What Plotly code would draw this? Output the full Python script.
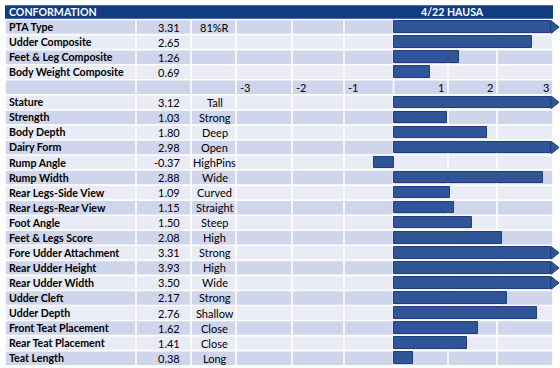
import plotly.graph_objects as go

# ---------------- data ----------------
title_left = "CONFORMATION"
title_right = "4/22 HAUSA"

top_names = ["PTA Type", "Udder Composite", "Feet & Leg Composite", "Body Weight Composite"]
top_values = [3.31, 2.65, 1.26, 0.69]
top_labels = ["81%R", "", "", ""]

trait_names = ["Stature", "Strength", "Body Depth", "Dairy Form", "Rump Angle", "Rump Width",
               "Rear Legs-Side View", "Rear Legs-Rear View", "Foot Angle", "Feet & Legs Score",
               "Fore Udder Attachment", "Rear Udder Height", "Rear Udder Width", "Udder Cleft",
               "Udder Depth", "Front Teat Placement", "Rear Teat Placement", "Teat Length"]
trait_values = [3.12, 1.03, 1.80, 2.98, -0.37, 2.88, 1.09, 1.15, 1.50, 2.08,
                3.31, 3.93, 3.50, 2.17, 2.76, 1.62, 1.41, 0.38]
trait_labels = ["Tall", "Strong", "Deep", "Open", "HighPins", "Wide", "Curved", "Straight",
                "Steep", "High", "Strong", "High", "Wide", "Strong", "Shallow", "Close",
                "Close", "Long"]

axis_ticks = [-3, -2, -1, 1, 2, 3]

# ---------------- layout constants (pixels) ----------------
W, H = 560, 368
TOP = 4.5
ROW_H = 15.05
COLS = [5, 136, 191, 236, 292, 344, 393.5, 448, 497, 553]
ZERO_PX = 393.7
PX_PER_UNIT = 52.0
CAP = 3.03          # bars longer than the grid end in an arrow
ARROW_AT = 2.95
ARROW_LEN = 0.15
BAR_H = 11.5

DARK = "#CFD5EA"
LIGHT = "#E9EBF5"
HEADER = "#0F3C83"
BAR = "#2F5597"
BAR_EDGE = "#1F3F82"
FONT = "Lato"
FS_NAME = 10.6
FS = 11

names = top_names + [""] + trait_names
values = top_values + [None] + trait_values
labels = top_labels + [""] + trait_labels
n = len(names)
AXIS_ROW = len(top_names)


def row_y(i):
    # i = 0 is the first data row (header sits above it)
    y0 = TOP + ROW_H * (i + 1)
    return y0, y0 + ROW_H


shapes = []
annotations = []
g = 0.8

# header
shapes.append(dict(type="rect", xref="x", yref="y", x0=COLS[0], x1=COLS[-1],
                   y0=TOP + g, y1=TOP + ROW_H - g, fillcolor=HEADER, line_width=0, layer="below"))
annotations.append(dict(x=COLS[0] + 2, y=TOP + ROW_H / 2, xref="x", yref="y", text=title_left,
                        showarrow=False, xanchor="left", yanchor="middle",
                        font=dict(family=FONT, size=FS_NAME, color="white", weight="bold")))
annotations.append(dict(x=452, y=TOP + ROW_H / 2, xref="x", yref="y", text=title_right,
                        showarrow=False, xanchor="center", yanchor="middle",
                        font=dict(family=FONT, size=FS_NAME, color="white", weight="bold")))

for i in range(n):
    y0, y1 = row_y(i)
    fill = DARK if i % 2 == 0 else LIGHT
    for c in range(len(COLS) - 1):
        shapes.append(dict(type="rect", xref="x", yref="y", x0=COLS[c] + g, x1=COLS[c + 1] - g,
                           y0=y0 + g, y1=y1 - g, fillcolor=fill, line_width=0, layer="below"))
    yc = (y0 + y1) / 2
    if names[i]:
        annotations.append(dict(x=COLS[0] + 2, y=yc, xref="x", yref="y", text=names[i],
                                showarrow=False, xanchor="left", yanchor="middle",
                                font=dict(family=FONT, size=FS_NAME, color="black", weight="bold")))
    if values[i] is not None:
        annotations.append(dict(x=COLS[2] - 9, y=yc, xref="x", yref="y", text=f"{values[i]:.2f}",
                                showarrow=False, xanchor="right", yanchor="middle",
                                font=dict(family=FONT, size=FS, color="black")))
    if labels[i]:
        annotations.append(dict(x=(COLS[2] + COLS[3]) / 2 + 1, y=yc, xref="x", yref="y", text=labels[i],
                                showarrow=False, xanchor="center", yanchor="middle",
                                font=dict(family=FONT, size=FS, color="black")))

# axis row tick labels
ay0, ay1 = row_y(AXIS_ROW)
ayc = (ay0 + ay1) / 2
grid_cells = list(zip(COLS[3:-1], COLS[4:]))
neg_cells = grid_cells[:3]
pos_cells = grid_cells[3:]
for t, (a, b) in zip([t for t in axis_ticks if t < 0], neg_cells):
    annotations.append(dict(x=a + 2, y=ayc, xref="x", yref="y", text=str(t), showarrow=False,
                            xanchor="left", yanchor="middle",
                            font=dict(family=FONT, size=FS, color="black")))
for t, (a, b) in zip([t for t in axis_ticks if t > 0], pos_cells):
    annotations.append(dict(x=b - 2, y=ayc, xref="x", yref="y", text=str(t), showarrow=False,
                            xanchor="right", yanchor="middle",
                            font=dict(family=FONT, size=FS, color="black")))

# ---------------- bars ----------------
bar_x, bar_y = [], []
ax, ay = [], []
for i in range(n):
    v = values[i]
    if v is None:
        continue
    y0, y1 = row_y(i)
    yc = (y0 + y1) / 2
    if v >= ARROW_AT:
        bar_x.append(CAP)
        ax += [CAP, CAP + ARROW_LEN, CAP, CAP, None]
        ay += [yc - BAR_H / 2 - 0.5, yc, yc + BAR_H / 2 + 0.5, yc - BAR_H / 2 - 0.5, None]
    else:
        bar_x.append(v)
    bar_y.append(yc)

fig = go.Figure()
fig.add_trace(go.Bar(x=bar_x, y=bar_y, orientation="h", width=BAR_H, xaxis="x2", yaxis="y",
                     marker=dict(color=BAR, line=dict(color=BAR_EDGE, width=1)),
                     hoverinfo="skip", showlegend=False))
fig.add_trace(go.Scatter(x=ax, y=ay, xaxis="x2", yaxis="y", mode="lines", fill="toself",
                         fillcolor=BAR, line=dict(color=BAR_EDGE, width=1),
                         hoverinfo="skip", showlegend=False))

fig.update_layout(
    width=W, height=H, autosize=False,
    margin=dict(l=0, r=0, t=0, b=0, pad=0),
    paper_bgcolor="white", plot_bgcolor="white",
    xaxis=dict(range=[0, W], visible=False, fixedrange=True),
    xaxis2=dict(range=[-ZERO_PX / PX_PER_UNIT, (W - ZERO_PX) / PX_PER_UNIT], overlaying="x",
                anchor="y", visible=False, fixedrange=True),
    yaxis=dict(range=[H, 0], visible=False, fixedrange=True),
    shapes=shapes, annotations=annotations,
    bargap=0,
)

fig.write_html("out.html", config={"displayModeBar": False},
               post_script="document.body.style.margin='0';document.body.style.overflow='hidden';")
